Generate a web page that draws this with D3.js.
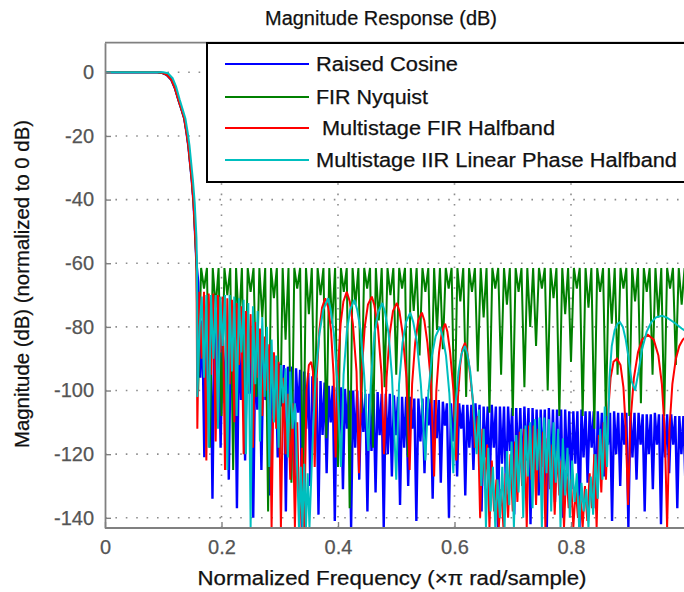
<!DOCTYPE html>
<html><head><meta charset="utf-8">
<script src="https://cdn.jsdelivr.net/npm/d3@7"></script>
<style>
html,body{margin:0;padding:0;background:#fff;}
svg{display:block;}
text{font-family:"Liberation Sans",Arial,sans-serif;}
</style>
</head><body>
<svg id="chart" width="684" height="592"></svg>
<script>
// ---------------- data ----------------
const titleText = "Magnitude Response (dB)";
const xLabelText = "Normalized Frequency (\u00d7\u03c0 rad/sample)";
const yLabelText = "Magnitude (dB) (normalized to 0 dB)";
const xTicks = [0, 0.2, 0.4, 0.6, 0.8];
const xTickLabels = ["0", "0.2", "0.4", "0.6", "0.8"];
const yTicks = [0, -20, -40, -60, -80, -100, -120, -140];
const seriesNames = ["Raised Cosine", "FIR Nyquist", " Multistage FIR Halfband", "Multistage IIR Linear Phase Halfband"];
const seriesColors = ["#0000ff", "#008000", "#ff0000", "#00bfbf"];

// passband + transition (frequency, dB)
const passbandFir = [[0,0],[0.09,0],[0.098,-0.2],[0.106,-0.8],[0.114,-2.4],[0.12,-5],[0.126,-8.7],[0.131,-11.5],[0.136,-14.5],[0.14,-19],[0.143,-23],[0.146,-28.5],[0.149,-34],[0.152,-41],[0.155,-52],[0.157,-60]];
const passbandIir = [[0,0],[0.1,0],[0.108,-0.3],[0.116,-1.8],[0.122,-4.5],[0.128,-8.5],[0.133,-11.5],[0.138,-14.5],[0.142,-19],[0.145,-23],[0.148,-28.5],[0.151,-34],[0.154,-41],[0.157,-52],[0.158,-62],[0.1585,-102]];

const raisedCosineStop = [
[0.160,-66],[0.1635,-96],[0.167,-78],[0.1705,-121],
[0.174,-78],[0.1775,-100],[0.181,-79],[0.1845,-134],
[0.188,-80],[0.1915,-97],[0.195,-81],[0.1985,-118],
[0.202,-82],[0.2055,-104],[0.209,-82],[0.2125,-128],
[0.216,-83],[0.2195,-99],[0.223,-83],[0.2265,-137],
[0.230,-84],[0.2335,-103],[0.237,-84.5],[0.2405,-122],
[0.244,-85.5],[0.2475,-101],[0.251,-86],[0.2545,-140],
[0.258,-87],[0.2615,-106],[0.265,-87.5],[0.2685,-125],
[0.272,-88.5],[0.2755,-103],[0.279,-89],[0.2825,-133],
[0.286,-90],[0.2895,-108],[0.293,-90.5],[0.2965,-121],
[0.300,-91.5],[0.3035,-105],[0.307,-92],[0.3105,-138],
[0.314,-92.5],[0.3175,-110],[0.321,-92.5],[0.3245,-128],
[0.328,-93],[0.3315,-107],[0.335,-93.5],[0.3385,-143],
[0.342,-94],[0.3455,-112],[0.349,-94.5],[0.3525,-130],
[0.356,-95.5],[0.3595,-108],[0.363,-96],[0.3665,-139],
[0.370,-97],[0.3735,-114],[0.377,-97.5],[0.3805,-126],
[0.384,-98.5],[0.3875,-110],[0.391,-98.5],[0.3945,-141],
[0.398,-99],[0.4015,-116],[0.405,-99],[0.4085,-131],
[0.412,-99.5],[0.4155,-112],[0.419,-100],[0.4225,-143],
[0.426,-100],[0.4295,-118],[0.433,-100],[0.4365,-128],
[0.440,-100.5],[0.4435,-113],[0.447,-101],[0.4505,-138],
[0.454,-101],[0.4575,-119],[0.461,-101],[0.4645,-132],
[0.468,-100.5],[0.4715,-114],[0.475,-101],[0.4785,-143],
[0.482,-101],[0.4855,-120],[0.489,-101],[0.4925,-127],
[0.496,-101.5],[0.4995,-114],[0.503,-102],[0.5065,-136],
[0.510,-102],[0.5135,-118],[0.517,-102],[0.5205,-130],
[0.524,-102],[0.5275,-112],[0.531,-102.5],[0.5345,-141],
[0.538,-102.5],[0.5415,-116],[0.545,-102.5],[0.5485,-126],
[0.552,-102],[0.5555,-111],[0.559,-102.5],[0.5625,-134],
[0.566,-103],[0.5695,-115],[0.573,-103],[0.5765,-129],
[0.580,-103.5],[0.5835,-111],[0.587,-104],[0.5905,-140],
[0.594,-104],[0.5975,-116],[0.601,-104],[0.6045,-127],
[0.608,-104],[0.6115,-112],[0.615,-104.5],[0.6185,-133],
[0.622,-104.5],[0.6255,-118],[0.629,-104.5],[0.6325,-125],
[0.636,-104],[0.6395,-116],[0.643,-104.5],[0.6465,-138],
[0.650,-105],[0.6535,-121],[0.657,-105],[0.6605,-130],
[0.664,-104.5],[0.6675,-118],[0.671,-105],[0.6745,-143],
[0.678,-105],[0.6815,-123],[0.685,-105],[0.6885,-132],
[0.692,-105],[0.6955,-119],[0.699,-105.5],[0.7025,-139],
[0.706,-105.5],[0.7095,-124],[0.713,-105.5],[0.7165,-128],
[0.720,-105],[0.7235,-122],[0.727,-105.5],[0.7305,-142],
[0.734,-105.5],[0.7375,-126],[0.741,-106],[0.7445,-133],
[0.748,-106],[0.7515,-124],[0.755,-106],[0.7585,-143],
[0.762,-105.5],[0.7655,-128],[0.769,-106],[0.7725,-135],
[0.776,-106],[0.7795,-125],[0.783,-106],[0.7865,-140],
[0.790,-106],[0.7935,-127],[0.797,-106.5],[0.8005,-131],
[0.804,-106.5],[0.8075,-123],[0.811,-106.5],[0.8145,-143],
[0.818,-106],[0.8215,-121],[0.825,-106.5],[0.8285,-129],
[0.832,-106.5],[0.8355,-118],[0.839,-106.5],[0.8425,-137],
[0.846,-106.5],[0.8495,-121],[0.853,-107],[0.8565,-127],
[0.860,-107],[0.8635,-117],[0.867,-107],[0.8705,-141],
[0.874,-106.5],[0.8775,-120],[0.881,-107],[0.8845,-130],
[0.888,-107],[0.8915,-117],[0.895,-107],[0.8985,-143],
[0.902,-107],[0.9055,-121],[0.909,-107],[0.9125,-128],
[0.916,-107],[0.9195,-117],[0.923,-107.5],[0.9265,-138],
[0.930,-107.5],[0.9335,-120],[0.937,-107.5],[0.9405,-131],
[0.944,-107],[0.9475,-117],[0.951,-107.5],[0.9545,-142],
[0.958,-107.5],[0.9615,-121],[0.965,-107.5],[0.9685,-126],
[0.972,-107.5],[0.9755,-117],[0.979,-108],[0.9825,-137],
[0.986,-108],[0.9895,-120],[0.993,-108],[0.9965,-130]
];

const firNyquistStop = [
[0.16,-100],[0.165,-61.5],[0.17,-68],[0.175,-61.5],[0.18,-118],[0.185,-61.5],[0.19,-74],[0.195,-61.5],
[0.20,-108],[0.205,-61.5],[0.21,-70],[0.215,-61.5],[0.22,-125],[0.225,-61.5],[0.23,-80],[0.235,-61.5],
[0.24,-112],[0.245,-61.5],[0.25,-69],[0.255,-61.5],[0.26,-102],[0.265,-61.5],[0.27,-77],[0.275,-61.5],
[0.28,-138],[0.285,-61.5],[0.29,-71],[0.295,-61.5],[0.30,-120],[0.305,-61.5],[0.31,-84],[0.315,-61.5],
[0.32,-129],[0.325,-61.5],[0.33,-68],[0.335,-61.5],[0.34,-133],[0.345,-61.5],[0.35,-76],[0.355,-61.5],
[0.36,-110],[0.365,-61.5],[0.37,-70],[0.375,-61.5],[0.38,-115],[0.385,-61.5],[0.39,-79],[0.395,-61.5],
[0.40,-124],[0.405,-61.5],[0.41,-69],[0.415,-61.5],[0.42,-137],[0.425,-61.5],[0.43,-73],[0.435,-61.5],
[0.44,-107],[0.445,-61.5],[0.45,-68],[0.455,-61.5],[0.46,-118],[0.465,-61.5],[0.47,-78],[0.475,-61.5],
[0.48,-99],[0.485,-61.5],[0.49,-70],[0.495,-61.5],[0.50,-95],[0.505,-61.5],[0.51,-68],[0.515,-61.5],
[0.52,-121],[0.525,-61.5],[0.53,-75],[0.535,-61.5],[0.54,-89],[0.545,-61.5],[0.55,-69],[0.555,-61.5],
[0.56,-104],[0.565,-61.5],[0.57,-81],[0.575,-61.5],[0.58,-87],[0.585,-61.5],[0.59,-68],[0.595,-61.5],
[0.60,-110],[0.605,-61.5],[0.61,-72],[0.615,-61.5],[0.62,-102],[0.625,-61.5],[0.63,-69],[0.635,-61.5],
[0.64,-94],[0.645,-61.5],[0.65,-77],[0.655,-61.5],[0.66,-107],[0.665,-61.5],[0.67,-68],[0.675,-61.5],
[0.68,-95],[0.685,-61.5],[0.69,-73],[0.695,-61.5],[0.70,-108],[0.705,-61.5],[0.71,-69],[0.715,-61.5],
[0.72,-99],[0.725,-61.5],[0.73,-80],[0.735,-61.5],[0.74,-86],[0.745,-61.5],[0.75,-68],[0.755,-61.5],
[0.76,-100],[0.765,-61.5],[0.77,-71],[0.775,-61.5],[0.78,-108],[0.785,-61.5],[0.79,-76],[0.795,-61.5],
[0.80,-91],[0.805,-61.5],[0.81,-68],[0.815,-61.5],[0.82,-108],[0.825,-61.5],[0.83,-74],[0.835,-61.5],
[0.84,-112],[0.845,-61.5],[0.85,-69],[0.855,-61.5],[0.86,-108],[0.865,-61.5],[0.87,-79],[0.875,-61.5],
[0.88,-95],[0.885,-61.5],[0.89,-68],[0.895,-61.5],[0.90,-108],[0.905,-61.5],[0.91,-72],[0.915,-61.5],
[0.92,-104],[0.925,-61.5],[0.93,-69],[0.935,-61.5],[0.94,-95],[0.945,-61.5],[0.95,-77],[0.955,-61.5],
[0.96,-108],[0.965,-61.5],[0.97,-68],[0.975,-61.5],[0.98,-92],[0.985,-61.5],[0.99,-73],[0.995,-61.5]
];

const firHalfbandStop = [
[0.1585,-112],[0.162,-69],[0.166,-90],[0.170,-69],[0.174,-122],[0.178,-69.5],[0.182,-95],[0.186,-69.5],
[0.190,-116],[0.194,-70],[0.198,-88],[0.202,-70.5],[0.206,-125],[0.210,-71],[0.214,-98],[0.218,-71.5],
[0.222,-110],[0.226,-72.5],[0.230,-92],[0.234,-73.5],[0.238,-120],[0.242,-75],[0.246,-100],[0.250,-76],
[0.254,-118],[0.258,-78.5],[0.262,-96],[0.266,-80.5],[0.270,-108],[0.274,-83],[0.278,-100],[0.282,-85.5],
[0.286,-143],[0.290,-88],[0.294,-112],[0.298,-91],[0.302,-143],[0.306,-96],[0.310,-120],[0.314,-101],
[0.318,-128],[0.322,-104],[0.326,-143],[0.330,-110],[0.334,-143],[0.338,-118],[0.342,-143],
[0.346,-100],[0.350,-92],[0.354,-91],[0.357,-94],[0.360,-124],
[0.3636,-95],[0.368,-81],[0.3726,-74],[0.378,-71],[0.3834,-74],[0.388,-81],[0.3924,-95],[0.396,-121],
[0.3998,-94],[0.4045,-79],[0.4093,-72],[0.415,-69],[0.4202,-72],[0.4255,-79],[0.4318,-94],[0.436,-126],
[0.4404,-95],[0.4459,-80],[0.4514,-73],[0.458,-70.5],[0.4622,-73],[0.4685,-80],[0.4748,-95],[0.479,-120],
[0.4834,-96],[0.4889,-82],[0.4944,-75],[0.501,-72.5],[0.5054,-75],[0.5109,-82],[0.5176,-96],[0.523,-125],
[0.5272,-98],[0.5325,-85],[0.5377,-78],[0.544,-75.5],[0.5482,-78],[0.5535,-85],[0.5598,-98],[0.565,-127],
[0.5688,-100],[0.5735,-88],[0.5783,-81.5],[0.584,-79],[0.5878,-81.5],[0.5925,-88],[0.5982,-100],[0.603,-122],
[0.606,-102],[0.6098,-92],[0.6135,-87],[0.618,-85],[0.6212,-87],[0.625,-92],[0.6314,-103],[0.635,-118],
[0.640,-108],[0.644,-140],[0.648,-112],[0.652,-130],[0.656,-117],[0.660,-143],[0.664,-122],[0.668,-138],
[0.672,-128],[0.676,-143],[0.680,-131],[0.684,-143],[0.688,-126],[0.692,-140],[0.696,-120],[0.700,-138],
[0.704,-116],[0.708,-135],[0.712,-113],[0.716,-130],[0.720,-112],[0.724,-143],[0.728,-111],[0.732,-128],
[0.736,-111],[0.740,-136],[0.744,-112],[0.748,-129],[0.752,-113],[0.756,-143],[0.760,-115],[0.764,-131],
[0.768,-117],[0.772,-139],[0.776,-119],[0.780,-133],[0.784,-122],[0.788,-143],[0.792,-125],[0.796,-137],
[0.800,-128],[0.804,-143],[0.808,-131],[0.812,-140],[0.816,-133],[0.820,-143],[0.824,-130],[0.828,-141],
[0.832,-126],[0.836,-137],[0.840,-120],[0.844,-143],[0.848,-114],[0.852,-132],[0.856,-110],[0.860,-128],
[0.864,-106],[0.868,-96],[0.873,-91],[0.879,-90],[0.885,-92],[0.890,-99],[0.894,-112],[0.898,-136],
[0.902,-110],[0.908,-96],[0.915,-88],[0.922,-84],[0.932,-82.5],[0.942,-84],[0.950,-89],[0.956,-98],
[0.961,-113],[0.965,-143],[0.969,-112],[0.974,-98],[0.980,-90],[0.986,-86],[0.992,-84],[0.998,-83]
];

const iirHalfbandStop = [
[0.1625,-80],[0.166,-70.5],[0.170,-96],[0.174,-70],[0.178,-118],[0.182,-70],[0.186,-90],[0.190,-70],
[0.194,-112],[0.198,-70.5],[0.202,-86],[0.206,-70],[0.210,-125],[0.214,-70],[0.218,-94],[0.222,-70.5],
[0.226,-108],[0.230,-71],[0.234,-88],[0.238,-71.5],[0.242,-120],[0.246,-72.5],[0.250,-143],[0.254,-73.5],
[0.258,-98],[0.262,-75],[0.266,-116],[0.270,-77],[0.274,-102],[0.278,-80],[0.282,-124],[0.286,-84],
[0.290,-110],[0.294,-89],[0.298,-118],[0.302,-92],[0.306,-104],[0.310,-93],[0.314,-121],[0.318,-94],
[0.322,-112],[0.326,-104],[0.330,-125],[0.333,-143],[0.336,-124],[0.339,-143],[0.342,-123],[0.345,-143],
[0.348,-126],[0.351,-143],[0.356,-118],
[0.3614,-96],[0.3682,-82],[0.3749,-74.5],[0.383,-71],[0.3874,-74.5],[0.3929,-82],[0.3984,-96],[0.405,-124],
[0.4096,-95],[0.4154,-81],[0.4211,-74.5],[0.428,-71.5],[0.4328,-74.5],[0.4388,-81],[0.4448,-95],[0.452,-119],
[0.4568,-96],[0.4628,-82],[0.4688,-75.5],[0.476,-72.5],[0.4808,-75.5],[0.4868,-82],[0.4928,-96],[0.500,-128],
[0.5048,-98],[0.5108,-85],[0.5168,-78.5],[0.524,-75.5],[0.5292,-78.5],[0.5357,-85],[0.5422,-98],[0.550,-122],
[0.555,-101],[0.5613,-89],[0.5675,-83],[0.575,-80],[0.5796,-83],[0.5854,-89],[0.5912,-101],[0.598,-126],
[0.602,-104],[0.607,-94],[0.612,-88.5],[0.618,-86],[0.622,-88.5],[0.627,-94],[0.632,-104],[0.638,-120],
[0.642,-106],[0.646,-130],[0.650,-112],[0.654,-143],[0.658,-118],[0.662,-138],[0.666,-124],[0.670,-143],
[0.674,-128],[0.678,-140],[0.682,-124],[0.686,-143],[0.690,-119],[0.694,-136],[0.698,-116],[0.702,-143],
[0.706,-114],[0.710,-132],[0.714,-112],[0.718,-140],[0.722,-111],[0.726,-127],[0.730,-110],[0.734,-137],
[0.738,-109],[0.742,-125],[0.746,-108.5],[0.750,-143],[0.754,-108.5],[0.758,-126],[0.762,-109],[0.766,-138],
[0.770,-110],[0.774,-129],[0.778,-112],[0.782,-143],[0.786,-115],[0.790,-133],[0.794,-118],[0.798,-140],
[0.802,-122],[0.806,-135],[0.810,-126],[0.814,-143],[0.818,-129],[0.822,-138],[0.826,-131],[0.830,-143],
[0.834,-127],[0.838,-139],[0.842,-120],[0.846,-134],[0.850,-112],[0.854,-128],[0.858,-105],[0.862,-124],
[0.866,-96],[0.870,-86],[0.875,-81],[0.880,-79],[0.884,-78.5],[0.889,-80],[0.894,-84],[0.899,-90],
[0.904,-97],[0.910,-100],[0.916,-94],[0.922,-87],[0.930,-81.5],[0.938,-78.5],[0.946,-77],[0.956,-76.5],
[0.964,-77],[0.972,-78],[0.980,-79],[0.990,-80.5],[0.998,-81.5]
];

const seriesData = [
  passbandFir.concat(raisedCosineStop),
  passbandFir.concat(firNyquistStop),
  passbandFir.concat(firHalfbandStop),
  passbandIir.concat(iirHalfbandStop)
];

// ---------------- drawing ----------------
const W = 684, H = 592;
const plotLeft = 105, plotRight = 687.5, plotTop = 42.7, plotBottom = 528;
const svg = d3.select("#chart");

const x = d3.scaleLinear().domain([0, 1]).range([plotLeft, plotRight]);
const y = d3.scaleLinear().domain([-143.2, 9.3]).range([plotBottom, plotTop]);

svg.append("rect").attr("width", W).attr("height", H).attr("fill", "#fff");

svg.append("defs").append("clipPath").attr("id", "plotclip")
  .append("rect").attr("x", plotLeft).attr("y", plotTop)
  .attr("width", plotRight - plotLeft).attr("height", plotBottom - plotTop);

// grid
const grid = svg.append("g").attr("stroke", "#8c8c8c").attr("stroke-width", 1.6)
  .attr("stroke-dasharray", "1.6,8.8").attr("fill", "none");
grid.selectAll("line.gx").data(xTicks.filter(d => d > 0)).enter().append("line")
  .attr("x1", d => x(d)).attr("x2", d => x(d)).attr("y1", plotBottom).attr("y2", plotTop);
grid.selectAll("line.gy").data(yTicks).enter().append("line")
  .attr("x1", plotLeft).attr("x2", plotRight).attr("y1", d => y(d)).attr("y2", d => y(d));

// data lines
const line = d3.line().x(d => x(d[0])).y(d => y(d[1]));
const plot = svg.append("g").attr("clip-path", "url(#plotclip)");
const strokeWidths = [2.4, 2, 2, 2];
seriesData.forEach((pts, i) => {
  plot.append("path").datum(pts).attr("d", line)
    .attr("fill", "none").attr("stroke", seriesColors[i])
    .attr("stroke-width", strokeWidths[i]).attr("stroke-linejoin", "miter").attr("stroke-miterlimit", 2);
});

// axes
const axisColor = "#808080";
const tickColor = "#555";
const xAxis = d3.axisBottom(x).tickValues(xTicks).tickFormat((d, i) => xTickLabels[i])
  .tickSizeInner(-6).tickSizeOuter(0).tickPadding(12);
const gx = svg.append("g").attr("transform", `translate(0,${plotBottom})`).call(xAxis);
const yAxis = d3.axisLeft(y).tickValues(yTicks).tickFormat(d => String(d))
  .tickSizeInner(-6).tickSizeOuter(0).tickPadding(11);
const gy = svg.append("g").attr("transform", `translate(${plotLeft},0)`).call(yAxis);
[gx, gy].forEach(g => {
  g.select(".domain").attr("stroke", axisColor).attr("stroke-width", 1.8);
  g.selectAll(".tick line").attr("stroke", axisColor).attr("stroke-width", 1.4);
  g.selectAll(".tick text").attr("fill", tickColor).attr("font-size", 20)
    .attr("stroke", tickColor).attr("stroke-width", 0.25)
    .attr("font-family", "'Liberation Sans', Arial, sans-serif");
});
// extend bottom axis line to the right edge of the plot
gx.select(".domain").attr("d", `M${plotLeft},0H${plotRight}`);
// top border
svg.append("line").attr("x1", plotLeft).attr("x2", plotRight).attr("y1", plotTop).attr("y2", plotTop)
  .attr("stroke", axisColor).attr("stroke-width", 1.8);

// legend
const legendBox = {x: 207, y: 43, w: 482, h: 139};
const legendRows = [64, 97, 128, 160];
const legendTextWidths = [142, 112, 239, 361];
const lg = svg.append("g");
lg.append("rect").attr("x", legendBox.x).attr("y", legendBox.y).attr("width", legendBox.w).attr("height", legendBox.h)
  .attr("fill", "#fff").attr("stroke", "#000").attr("stroke-width", 2);
seriesNames.forEach((name, i) => {
  lg.append("line").attr("x1", 225).attr("x2", 309).attr("y1", legendRows[i]).attr("y2", legendRows[i])
    .attr("stroke", seriesColors[i]).attr("stroke-width", 2);
  lg.append("text").attr("x", 316).attr("y", legendRows[i] + 7).attr("font-size", 20)
    .attr("fill", "#111").attr("stroke", "#111").attr("stroke-width", 0.25)
    .attr("textLength", legendTextWidths[i]).attr("lengthAdjust", "spacingAndGlyphs")
    .attr("xml:space", "preserve").style("white-space", "pre").text(name);
});

// title and labels
svg.append("text").attr("x", 381).attr("y", 25).attr("text-anchor", "middle")
  .attr("font-size", 20).attr("fill", "#111").attr("stroke", "#111").attr("stroke-width", 0.25)
  .attr("textLength", 232).attr("lengthAdjust", "spacingAndGlyphs").text(titleText);
svg.append("text").attr("x", 392).attr("y", 585).attr("text-anchor", "middle")
  .attr("font-size", 20).attr("fill", "#111").attr("stroke", "#111").attr("stroke-width", 0.25)
  .attr("textLength", 389).attr("lengthAdjust", "spacingAndGlyphs").text(xLabelText);
svg.append("text").attr("transform", "translate(29,284) rotate(-90)").attr("text-anchor", "middle")
  .attr("font-size", 20).attr("fill", "#111").attr("stroke", "#111").attr("stroke-width", 0.25)
  .attr("textLength", 328).attr("lengthAdjust", "spacingAndGlyphs").text(yLabelText);
</script>
</body></html>
